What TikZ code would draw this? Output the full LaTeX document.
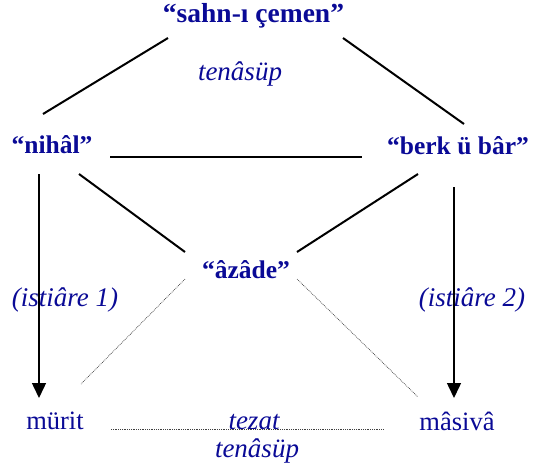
\documentclass[tikz,border=0pt]{standalone}
\usepackage{fontspec}
\setmainfont{Liberation Serif}
\usetikzlibrary{arrows.meta}
\definecolor{txtblue}{RGB}{10,10,150}
\tikzset{
  lbl/.style={inner sep=0pt, anchor=base, text=txtblue, font=\fontsize{26.5}{30}\selectfont},
  blbl/.style={lbl, font=\fontsize{25.5}{30}\selectfont\bfseries},
  ilbl/.style={lbl, font=\fontsize{27}{30}\selectfont\itshape},
  solidline/.style={draw=black, line width=2pt},
  arrowline/.style={draw=black, line width=1.5pt, -{Triangle[length=15pt,width=14pt]}},
  dotline/.style={draw=black!75, line width=0.7pt, dash pattern=on 0.8pt off 1pt}
}
\begin{document}
\begin{tikzpicture}[x=1pt,y=-1pt]
\useasboundingbox (0,0) rectangle (536,469);
% texts
\node[blbl, font=\fontsize{27.5}{30}\selectfont\bfseries] (sahn) at (253.5,22) {``sahn-ı çemen''};
\node[ilbl] (ten1) at (240,80) {tenâsüp};
\node[blbl] (nihal) at (52,153) {``nihâl''};
\node[blbl] (berk) at (458,154) {``berk ü bâr''};
\node[blbl] (azade) at (246,278) {``âzâde''};
\node[ilbl] (ist1) at (65,306) {(istiâre 1)};
\node[ilbl] (ist2) at (472,306) {(istiâre 2)};
\node[lbl] (murit) at (55,429) {mürit};
\node[lbl] (masiva) at (457,430) {mâsivâ};
\node[ilbl] (tezat) at (254,429) {tezat};
\node[ilbl] (ten2) at (257,457) {tenâsüp};
% endpoints
\coordinate (sL) at (168,38);
\coordinate (sR) at (343,38);
\coordinate (nT) at (43,114);
\coordinate (bT) at (464,124);
\coordinate (nR) at (110,157);
\coordinate (bL) at (362,157);
\coordinate (nD) at (79,174);
\coordinate (bD) at (418,174);
\coordinate (aL) at (185,252);
\coordinate (aR) at (297,252);
\coordinate (nA) at (39,174);
\coordinate (mA) at (39,398);
\coordinate (bA) at (454,187);
\coordinate (vA) at (454,398);
\coordinate (aLd) at (185,279);
\coordinate (aRd) at (297,279);
\coordinate (mD) at (81,384);
\coordinate (vD) at (418,397);
\coordinate (mR) at (111,429);
\coordinate (vL) at (384,429);
% connectors
\draw[solidline] (sL) -- (nT);
\draw[solidline] (sR) -- (bT);
\draw[solidline] (nR) -- (bL);
\draw[solidline] (nD) -- (aL);
\draw[solidline] (bD) -- (aR);
\draw[arrowline] (nA) -- (mA);
\draw[arrowline] (bA) -- (vA);
\draw[dotline] (aLd) -- (mD);
\draw[dotline] (aRd) -- (vD);
\draw[dotline] (mR) -- (vL);
\end{tikzpicture}
\end{document}
